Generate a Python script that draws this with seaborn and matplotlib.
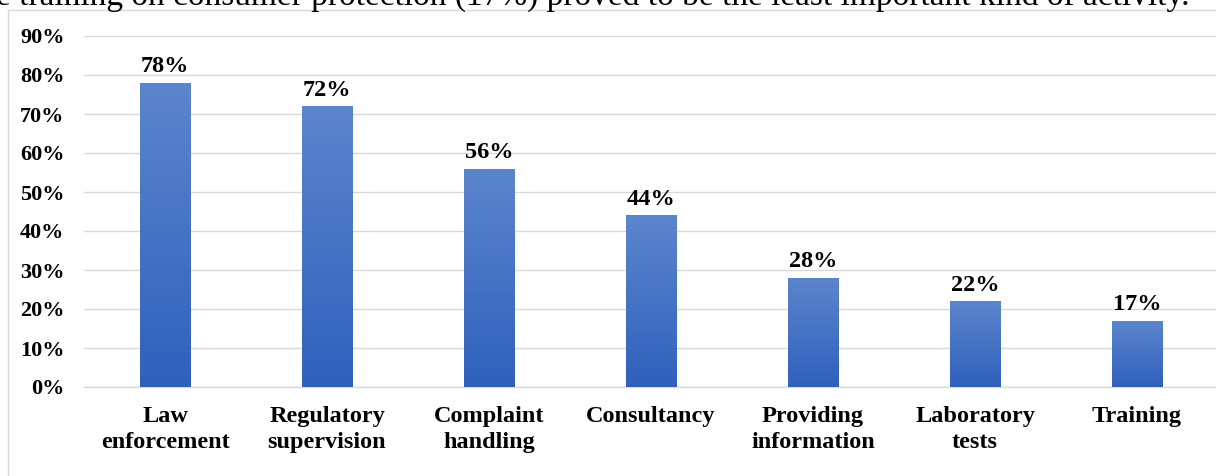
import matplotlib
matplotlib.use("Agg")
import matplotlib.pyplot as plt
import seaborn as sns
import numpy as np
import pandas as pd
from matplotlib.colors import LinearSegmentedColormap
from matplotlib.ticker import PercentFormatter, MultipleLocator
from matplotlib.patches import Rectangle

categories = ["Law\nenforcement", "Regulatory\nsupervision", "Complaint\nhandling",
              "Consultancy", "Providing\ninformation", "Laboratory\ntests", "Training"]
values = [78, 72, 56, 44, 28, 22, 17]
value_labels = ["78%", "72%", "56%", "44%", "28%", "22%", "17%"]
caption = "e training on consumer protection (17%) proved to be the least important kind of activity."

sns.set_theme(style="white")
plt.rcParams['font.family'] = ['Liberation Serif', 'DejaVu Serif']

fig = plt.figure(figsize=(12.16, 4.76), dpi=100)
ax = fig.add_axes([84/1216, (476-387)/476, 1134/1216, (387-36)/476])

df = pd.DataFrame({"cat": categories, "val": values})
sns.barplot(data=df, x="cat", y="val", color="#4472c4", width=0.31, ax=ax, zorder=3)

ax.set_ylim(0, 90)
ax.set_xlim(-0.5, len(categories) - 0.5)
ax.yaxis.set_major_locator(MultipleLocator(10))
ax.yaxis.set_major_formatter(PercentFormatter(decimals=0))
ax.grid(axis="y", color="#d9d9d9", linewidth=1.0, zorder=0)
ax.set_axisbelow(True)
for s in ["top", "right", "left"]:
    ax.spines[s].set_visible(False)
ax.spines["bottom"].set_color("#d9d9d9")
ax.spines["bottom"].set_linewidth(1.0)
ax.set_xlabel("")
ax.set_ylabel("")
ax.tick_params(axis="both", length=0)
ax.tick_params(axis="y", labelsize=16, pad=14)
ax.tick_params(axis="x", labelsize=17.5, pad=14)
for lbl in ax.get_yticklabels() + ax.get_xticklabels():
    lbl.set_fontweight("bold")
    lbl.set_color("black")
for lbl in ax.get_xticklabels():
    lbl.set_linespacing(1.3)

# gradient fill on bars
cmap = LinearSegmentedColormap.from_list("g", ["#2f61bc", "#5c85cd"])
grad = np.linspace(0, 1, 256).reshape(-1, 1)
for patch in ax.patches:
    x0, y0 = patch.get_x(), patch.get_y()
    w, h = patch.get_width(), patch.get_height()
    im = ax.imshow(grad, extent=[x0, x0 + w, y0, y0 + h], origin="lower",
                   cmap=cmap, aspect="auto", zorder=3.5)
    im.set_clip_path(patch)
    patch.set_edgecolor("none")

ax.set_xlim(-0.5, len(categories) - 0.5)
ax.set_ylim(0, 90)

for i, (v, t) in enumerate(zip(values, value_labels)):
    ax.annotate(t, (i, v), xytext=(0, 4), textcoords="offset points",
                ha="center", va="bottom", fontsize=17.5, fontweight="bold", color="black")

# chart frame border
fig.patches.append(Rectangle((8/1216, -0.01), 1.0, (476-10)/476 + 0.01, transform=fig.transFigure,
                             fill=False, edgecolor="#d9d9d9", linewidth=1.0))

# clipped caption line at the top
fig.text(-4/1216, 1 - 5/476, caption, fontsize=24, ha="left", va="baseline", color="black")

fig.savefig("out.png", dpi=100)
